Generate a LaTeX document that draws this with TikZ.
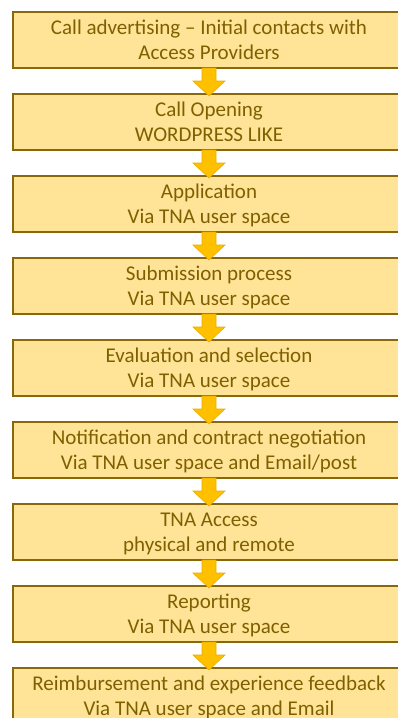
\documentclass[tikz,border=0pt]{standalone}
\usepackage{fontspec}
\setmainfont{Carlito}
\usetikzlibrary{calc}
\definecolor{boxfill}{HTML}{FFE497}
\definecolor{boxline}{HTML}{886808}
\definecolor{txt}{HTML}{7F6000}
\definecolor{arr}{HTML}{FFC000}
\definecolor{arrline}{HTML}{E8AE00}
\newcommand\blockarrow[2]{%
  \filldraw[arrowshape] ($(#1.south)+(-7,0)$) -- ($(#1.south)+(-7,13)$) -- ($(#1.south)+(-16,13)$)
    -- ($(#1.south)+(0,28)$) -- ($(#1.south)+(16,13)$) -- ($(#1.south)+(7,13)$)
    -- ($(#1.south)+(7,0)$) -- cycle;
  \coordinate (#2tip) at ($(#1.south)+(0,28)$);
}
\begin{document}
\begin{tikzpicture}[x=1pt,y=-1pt,
  stepbox/.style={draw=boxline, line width=2pt, fill=boxfill,
    minimum width=392pt, minimum height=56pt, text=txt,
    font=\fontsize{21}{25}\selectfont, align=center, inner sep=0pt,
    outer sep=0pt, anchor=north west, text depth=0pt},
  arrowshape/.style={fill=arr, draw=arrline, line width=0.6pt, line join=miter}]
\useasboundingbox (0,0) rectangle (398,718);
\fill[white] (0,0) rectangle (398,718);
\node[stepbox] (b1) at (13,12)  {Call advertising – Initial contacts with\\Access Providers};
\node[stepbox] (b2) at (13,94)  {Call Opening\\WORDPRESS LIKE};
\node[stepbox] (b3) at (13,176) {Application\\Via TNA user space};
\node[stepbox] (b4) at (13,258) {Submission process\\Via TNA user space};
\node[stepbox] (b5) at (13,340) {Evaluation and selection\\Via TNA user space};
\node[stepbox] (b6) at (13,422) {Notification and contract negotiation\\Via TNA user space and Email/post};
\node[stepbox] (b7) at (13,504) {TNA Access\\physical and remote};
\node[stepbox] (b8) at (13,586) {Reporting\\Via TNA user space};
\node[stepbox] (b9) at (13,668) {Reimbursement and experience feedback\\Via TNA user space and Email};
\blockarrow{b1}{a1}
\blockarrow{b2}{a2}
\blockarrow{b3}{a3}
\blockarrow{b4}{a4}
\blockarrow{b5}{a5}
\blockarrow{b6}{a6}
\blockarrow{b7}{a7}
\blockarrow{b8}{a8}
\end{tikzpicture}
\end{document}
